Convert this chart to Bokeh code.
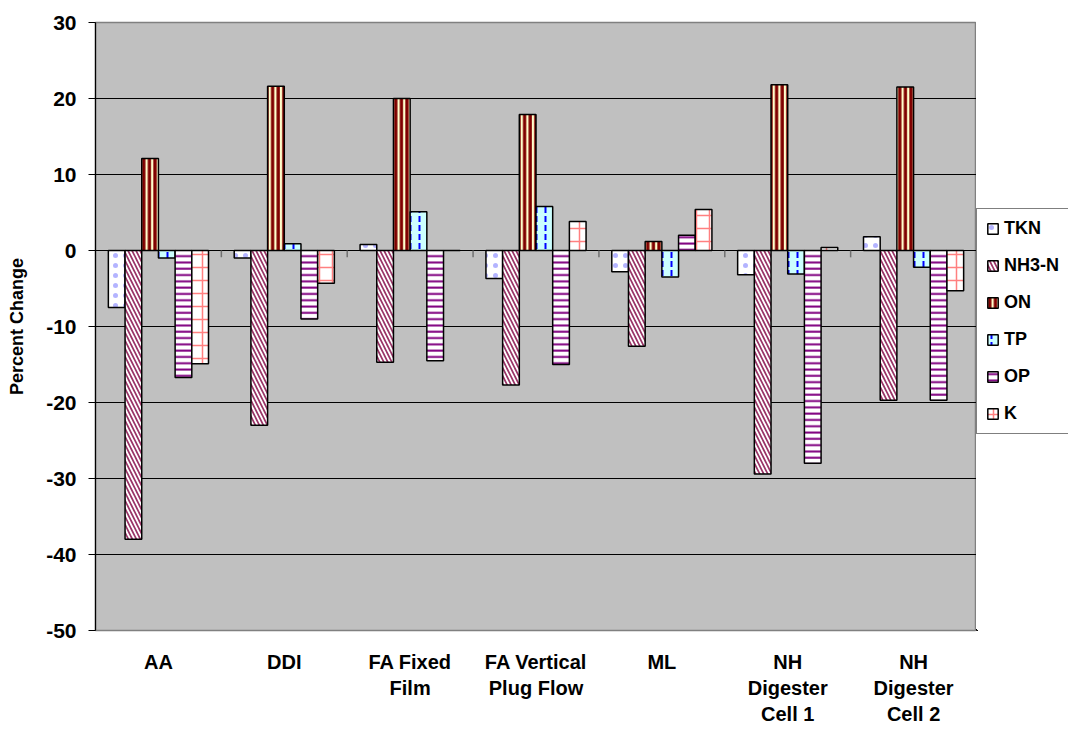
import numpy as np
from bokeh.plotting import figure
from bokeh.layouts import row
from bokeh.models import (ColumnDataSource, Range1d, FixedTicker, Legend, LegendItem)
from bokeh.embed import file_html
from bokeh.resources import INLINE

categories = ["AA", "DDI", "FA Fixed\nFilm", "FA Vertical\nPlug Flow", "ML",
              "NH\nDigester\nCell 1", "NH\nDigester\nCell 2"]
series_names = ["TKN", "NH3-N", "ON", "TP", "OP", "K"]
tkn = [-7.5, -1.0, 0.8, -3.7, -2.8, -3.2, 1.8]
nh3n = [-38.0, -23.0, -14.7, -17.7, -12.6, -29.4, -19.7]
on = [12.1, 21.6, 20.0, 17.9, 1.2, 21.8, 21.5]
tp = [-1.0, 0.9, 5.1, 5.8, -3.5, -3.1, -2.2]
op = [-16.7, -9.0, -14.5, -15.0, 2.0, -28.0, -19.7]
k = [-14.9, -4.3, 0.0, 3.8, 5.4, 0.4, -5.3]
y_ticks = [-50, -40, -30, -20, -10, 0, 10, 20, 30]
y_tick_labels = ["-50", "-40", "-30", "-20", "-10", "0", "10", "20", "30"]

series_values = [tkn, nh3n, on, tp, op, k]

styles = [
    dict(fill_color="white", hatch_pattern="dot", hatch_color="#B4B4FF", hatch_scale=10, hatch_weight=0.4),
    dict(fill_color="white", hatch_pattern="left_diagonal_line", hatch_color="#993366", hatch_scale=8, hatch_weight=1.7),
    dict(fill_color="#FFFFCC", hatch_pattern="vertical_line", hatch_color="#800000", hatch_scale=5.6, hatch_weight=3.3),
    dict(fill_color="#CCFFFF", hatch_pattern="vertical_dash", hatch_color="#0000FF", hatch_scale=9, hatch_weight=2),
    dict(fill_color="white", hatch_pattern="horizontal_line", hatch_color="#800080", hatch_scale=6.3, hatch_weight=2),
    dict(fill_color="white", hatch_pattern="cross", hatch_color="#FF8080", hatch_scale=13, hatch_weight=1.5),
]

n_cat = len(categories)
n_ser = len(series_names)
bar_w = 0.1326

p = figure(width=976, height=729, output_backend="svg", toolbar_location=None,
           x_range=Range1d(0, n_cat), y_range=Range1d(-50, 30),
           min_border_left=95, min_border_right=0, min_border_top=22, min_border_bottom=99)

p.background_fill_color = "#C0C0C0"
p.border_fill_color = "white"
p.outline_line_color = "#808080"
p.outline_line_width = 1.5

p.xgrid.visible = False
p.ygrid.ticker = FixedTicker(ticks=y_ticks)
p.ygrid.grid_line_color = "black"
p.ygrid.grid_line_width = 1.2

# y axis
p.yaxis.ticker = FixedTicker(ticks=y_ticks)
p.yaxis.major_label_overrides = {t: s for t, s in zip(y_ticks, y_tick_labels)}
p.yaxis.axis_line_color = "black"
p.yaxis.axis_line_width = 1.2
p.yaxis.major_tick_out = 7
p.yaxis.major_tick_in = 0
p.yaxis.major_tick_line_color = "black"
p.yaxis.minor_tick_line_color = None
p.yaxis.major_label_text_font = "Liberation Sans"
p.yaxis.major_label_text_font_style = "bold"
p.yaxis.major_label_text_font_size = "21px"
p.yaxis.major_label_text_color = "black"
p.yaxis.major_label_standoff = 12
p.yaxis.axis_label = "Percent Change"
p.yaxis.axis_label_text_font = "Liberation Sans"
p.yaxis.axis_label_text_font_style = "bold"
p.yaxis.axis_label_text_font_size = "18px"
p.yaxis.axis_label_text_color = "black"
p.yaxis.axis_label_standoff = 16

# x axis
centers = [i + 0.5 for i in range(n_cat)]
p.xaxis.ticker = FixedTicker(ticks=centers)
p.xaxis.major_label_overrides = {c: lab for c, lab in zip(centers, categories)}
p.xaxis.axis_line_color = None
p.xaxis.major_tick_line_color = None
p.xaxis.minor_tick_line_color = None
p.xaxis.major_label_text_font = "Liberation Sans"
p.xaxis.major_label_text_font_style = "bold"
p.xaxis.major_label_text_font_size = "20px"
p.xaxis.major_label_text_color = "black"
p.xaxis.major_label_standoff = 14

# category boundary ticks at zero line
bounds = np.arange(1, n_cat)
p.segment(x0=bounds, x1=bounds, y0=np.zeros(len(bounds)), y1=np.full(len(bounds), -0.9),
          line_color="#707070", line_width=1.5)

# legend figure (separate canvas to the right of the plot area); its view range
# is far from the data so the shared bars are not visible there
lf = figure(width=92, height=729, output_backend="svg", toolbar_location=None,
            x_axis_type=None, y_axis_type=None, x_range=Range1d(1000, 1001), y_range=Range1d(1000, 1001),
            min_border_left=0, min_border_right=0, min_border_top=0, min_border_bottom=0)
lf.outline_line_color = None
lf.xgrid.visible = False
lf.ygrid.visible = False
lf.background_fill_color = "white"

items = []
for j, (name, vals) in enumerate(zip(series_names, series_values)):
    xs = np.arange(n_cat) + 0.5 + (j - (n_ser - 1) / 2) * bar_w
    src = ColumnDataSource(dict(x=xs, top=vals))
    p.vbar(x="x", top="top", bottom=0, width=bar_w, source=src,
           line_color="black", line_width=1.5, **styles[j])
    lr = lf.vbar(x="x", top="top", bottom=0, width=bar_w, source=src,
                 line_color="black", line_width=1.5, **styles[j])
    items.append(LegendItem(label=name, renderers=[lr]))

legend = Legend(items=items, location=(0, 196), orientation="vertical",
                label_text_font="Liberation Sans", label_text_font_style="bold",
                label_text_font_size="18px", label_text_color="black",
                glyph_width=13, glyph_height=13, label_height=20, label_standoff=5,
                spacing=16, padding=9, margin=0,
                border_line_color="black", border_line_width=1,
                background_fill_color="white", background_fill_alpha=1)
lf.add_layout(legend, "center")

layout = row(p, lf, spacing=0)
open("out.html", "w").write(file_html(layout, INLINE))
